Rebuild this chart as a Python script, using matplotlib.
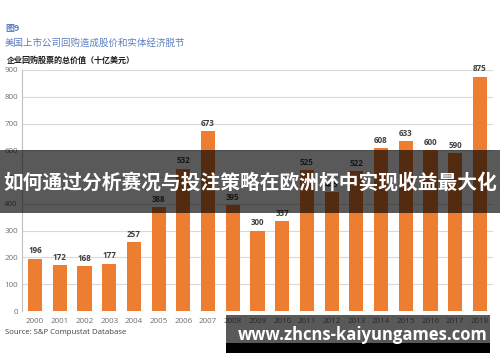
import matplotlib
matplotlib.use("Agg")
import matplotlib.pyplot as plt
from matplotlib.patches import Rectangle

years = ["2000", "2001", "2002", "2003", "2004", "2005", "2006", "2007", "2008", "2009",
         "2010", "2011", "2012", "2013", "2014", "2015", "2016", "2017", "2018"]
values = [196, 172, 168, 177, 257, 388, 532, 673, 395, 300,
          337, 525, 445, 522, 608, 633, 600, 590, 875]
yticks = [0, 100, 200, 300, 400, 500, 600, 700, 800, 900]

cjk = ['Noto Sans CJK SC', 'DejaVu Sans']
plt.rcParams['font.family'] = cjk

W, H = 500, 362
fig = plt.figure(figsize=(W / 100, H / 100), dpi=100)
ax = fig.add_axes([22 / W, 1 - 311 / H, (493 - 22) / W, (311 - 70) / H])

x = list(range(len(years)))
ax.bar(x, values, width=0.57, color="#ED7D31", zorder=3)
for xi, v in zip(x, values):
    ax.text(xi, v + 12, str(v), ha="center", va="bottom", fontsize=5.8,
            color="#404040", fontweight="bold", family=['Open Sans', 'DejaVu Sans'])

ax.set_xlim(-0.53, len(years) - 0.47)
ax.set_ylim(0, 900)
ax.set_yticks(yticks)
ax.set_xticks(x)
ax.set_xticklabels(years, family=['Open Sans', 'DejaVu Sans'])
ax.set_yticklabels([str(t) for t in yticks], family=['Open Sans', 'DejaVu Sans'])
ax.tick_params(axis="both", length=0, labelsize=5.8, labelcolor="#6e6e6e")
ax.tick_params(axis="y", pad=3)
ax.tick_params(axis="x", pad=5)
ax.grid(axis="y", color="#d9d9d9", linewidth=0.8, zorder=0)
for s in ["top", "right", "bottom"]:
    ax.spines[s].set_visible(False)
ax.spines["left"].set_color("#bfbfbf")
ax.spines["left"].set_linewidth(0.8)

# Titles
fig.text(5 / W, 1 - 29 / H, "图9", fontsize=6.5, color="#5b7fc0", fontweight="bold",
         va="center", ha="left")
fig.text(5 / W, 1 - 43 / H, "美国上市公司回购造成股价和实体经济脱节", fontsize=6.8,
         color="#5b7fc0", va="center", ha="left")
fig.text(7 / W, 1 - 60 / H, "企业回购股票的总价值（十亿美元）", fontsize=5.8,
         color="#1a1a1a", fontweight="bold", va="center", ha="left")
fig.text(5 / W, 1 - 333 / H, "Source: S&P Compustat Database", fontsize=5.6,
         color="#404040", va="center", ha="left", family=['Open Sans', 'DejaVu Sans'])

# Overlay banner
fig.patches.append(Rectangle((0, 1 - 213 / H), 1, 63 / H, transform=fig.transFigure,
                             facecolor="black", alpha=0.65, zorder=10))
fig.text(0.5, 1 - 183 / H, "如何通过分析赛况与投注策略在欧洲杯中实现收益最大化",
         fontsize=14.2, color="white", fontweight="bold", ha="center", va="center",
         zorder=11)

# Watermark
fig.patches.append(Rectangle((226 / W, 1 - 343 / H), (490 - 226) / W, 28 / H,
                             transform=fig.transFigure, facecolor="black", alpha=0.65,
                             zorder=10))
fig.patches.append(Rectangle((226 / W, 1 - 353 / H), (490 - 226) / W, 10 / H,
                             transform=fig.transFigure, facecolor="black", zorder=10))
fig.text(488 / W, 1 - 335 / H, "www.zhcns-kaiyungames.com", fontsize=12,
         color="white", fontweight="bold", ha="right", va="center", zorder=11,
         family=['Open Sans', 'DejaVu Sans'])

fig.savefig("out.png", dpi=100)
